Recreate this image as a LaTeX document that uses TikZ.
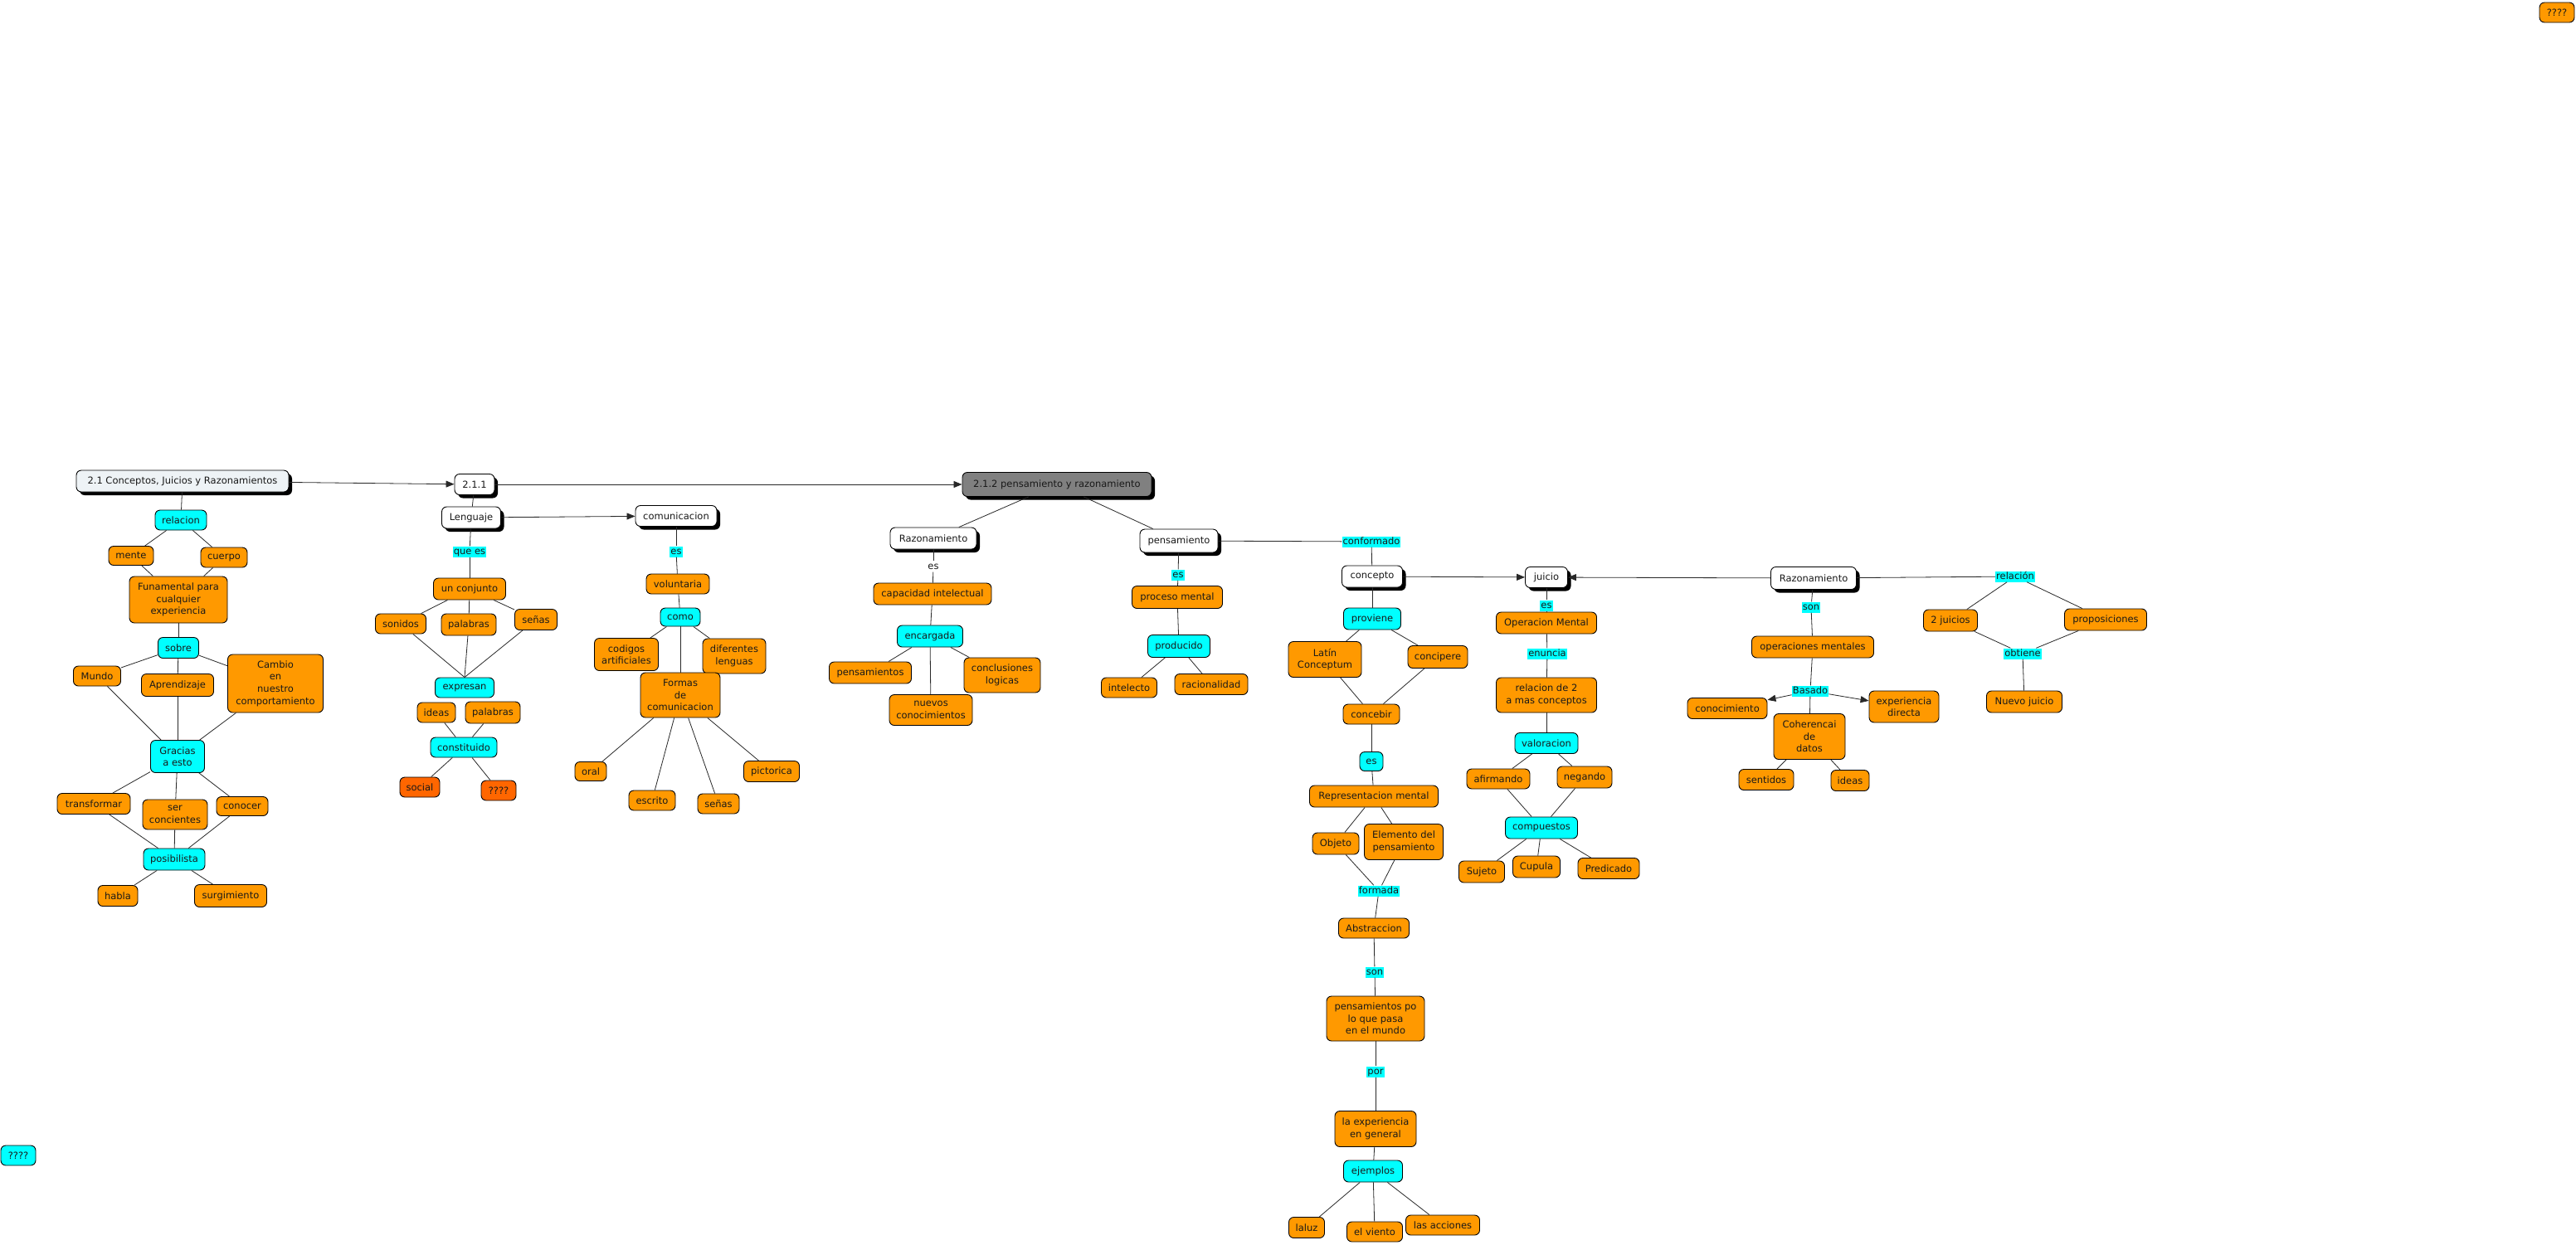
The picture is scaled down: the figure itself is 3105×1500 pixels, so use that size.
\documentclass[tikz,border=0pt]{standalone}
\usepackage{fontspec}
\setmainfont{DejaVu Sans}
\usetikzlibrary{arrows.meta,shadows}
\definecolor{corange}{RGB}{255,153,0}
\definecolor{ccyan}{RGB}{0,255,255}
\definecolor{cdark}{RGB}{255,102,0}
\definecolor{cmain}{RGB}{238,243,246}
\definecolor{cgray}{RGB}{128,128,128}
\definecolor{lnk}{RGB}{40,40,40}
\tikzset{
  base/.style={draw=black, line width=0.9pt, rounded corners=6pt, align=center, inner sep=1pt,
    font=\fontsize{11.5}{14.6}\selectfont, text=black!90},
  ob/.style={base, fill=corange},
  cb/.style={base, fill=ccyan},
  db/.style={base, fill=cdark},
  wb/.style={base, fill=white, general shadow={fill=black, shadow xshift=4pt, shadow yshift=-4pt}},
  lab/.style={fill=ccyan, inner sep=1pt, text height=8.5pt, text depth=2.5pt,
    font=\fontsize{11.5}{14.6}\selectfont, text=black!90},
  plab/.style={lab, fill=white},
  sz/.style 2 args={minimum width=#1pt, minimum height=#2pt},
  ln/.style={draw=lnk, line width=0.8pt},
  ar/.style={ln, -{Triangle[length=10pt,width=8pt]}},
}
\begin{document}
\begin{tikzpicture}[x=1pt, y=-1pt]
\useasboundingbox[fill=white] (0,0) rectangle (3105,1500);
% ---------- left section
\node[base, fill=cmain, general shadow={fill=black, shadow xshift=4pt, shadow yshift=-4pt}, sz={256}{26}] (main) at (220,580) {2.1 Conceptos, Juicios y Razonamientos};
\node[cb, sz={62}{24}] (rel) at (218,627) {relacion};
\node[ob, sz={54}{23}] (mente) at (158,670) {mente};
\node[ob, sz={56}{24}] (cuerpo) at (270,672) {cuerpo};
\node[ob, sz={118}{56}] (fun) at (215,723) {Funamental para\\cualquier\\experiencia};
\node[cb, sz={49}{25}] (sobre) at (215,781) {sobre};
\node[ob, sz={57}{24}] (mundo) at (117,815) {Mundo};
\node[ob, sz={87}{27}] (apr) at (214,826) {Aprendizaje};
\node[ob, sz={115}{70}] (cambio) at (332,824) {Cambio\\en\\nuestro\\comportamiento};
\node[cb, sz={65}{39}] (gracias) at (214,912) {Gracias\\a esto};
\node[ob, sz={88}{25}] (transf) at (113,969) {transformar};
\node[ob, sz={78}{36}] (ser) at (211,982) {ser\\concientes};
\node[ob, sz={62}{23}] (conocer) at (292,972) {conocer};
\node[cb, sz={74}{26}] (posib) at (210,1036) {posibilista};
\node[ob, sz={48}{25}] (habla) at (142,1080) {habla};
\node[ob, sz={87}{27}] (surg) at (278,1080) {surgimiento};
% ---------- lenguaje
\node[wb, sz={48}{25}] (n211) at (572,584) {2.1.1};
\node[wb, sz={71}{26}] (leng) at (568,624) {Lenguaje};
\node[lab] (quees) at (566,665) {que es};
\node[ob, sz={87}{26}] (conj) at (566,710) {un conjunto};
\node[ob, sz={61}{24}] (son1) at (483,752) {sonidos};
\node[ob, sz={66}{26}] (pal1) at (565,753) {palabras};
\node[ob, sz={51}{25}] (sen1) at (646,747) {señas};
\node[cb, sz={71}{24}] (expr) at (560,829) {expresan};
\node[ob, sz={46}{24}] (ideas1) at (526,859) {ideas};
\node[ob, sz={66}{26}] (pal2) at (594,859) {palabras};
\node[cb, sz={80}{24}] (const) at (559,901) {constituido};
\node[db, sz={48}{24}] (social) at (506,949) {social};
\node[db, sz={42}{24}] (q1) at (601,953) {????};
% ---------- comunicacion
\node[wb, sz={98}{25}] (com) at (815,622) {comunicacion};
\node[lab] (es1) at (815,665) {es};
\node[ob, sz={76}{24}] (vol) at (817,704) {voluntaria};
\node[cb, sz={48}{22}] (como) at (820,744) {como};
\node[ob, sz={77}{39}] (cod) at (755,789) {codigos\\artificiales};
\node[ob, sz={76}{42}] (dif) at (885,791) {diferentes\\lenguas};
\node[ob, sz={96}{54}] (formas) at (820,838) {Formas\\de\\comunicacion};
\node[ob, sz={38}{23}] (oral) at (712,930) {oral};
\node[ob, sz={56}{24}] (escr) at (786,965) {escrito};
\node[ob, sz={50}{24}] (sen2) at (866,969) {señas};
\node[ob, sz={67}{25}] (pict) at (930,930) {pictorica};
% ---------- 2.1.2
\node[base, fill=cgray, general shadow={fill=black, shadow xshift=4pt, shadow yshift=-4pt}, sz={228}{29}] (n212) at (1274,584) {2.1.2 pensamiento y razonamiento};
\node[wb, sz={104}{26}] (raz1) at (1125,649) {Razonamiento};
\node[plab] (es2) at (1125,683) {es};
\node[ob, sz={142}{26}] (cap) at (1124,716) {capacidad intelectual};
\node[cb, sz={79}{26}] (enc) at (1121,767) {encargada};
\node[ob, sz={99}{26}] (pens1) at (1049,811) {pensamientos};
\node[ob, sz={92}{42}] (concl) at (1208,814) {conclusiones\\logicas};
\node[ob, sz={100}{37}] (nuevos) at (1122,856) {nuevos\\conocimientos};
% ---------- pensamiento
\node[wb, sz={94}{28}] (pens) at (1421,652) {pensamiento};
\node[lab] (es3) at (1420,693) {es};
\node[ob, sz={109}{27}] (proc) at (1419,720) {proceso mental};
\node[cb, sz={75}{27}] (prod) at (1421,779) {producido};
\node[ob, sz={67}{24}] (intel) at (1361,829) {intelecto};
\node[ob, sz={88}{25}] (racio) at (1460,825) {racionalidad};
\node[lab] (conf) at (1653,653) {conformado};
% ---------- concepto
\node[wb, sz={73}{26}] (conc) at (1654,695) {concepto};
\node[cb, sz={69}{26}] (prov) at (1654,746) {proviene};
\node[ob, sz={88}{43}] (latin) at (1597,795) {Latín\\Conceptum};
\node[ob, sz={72}{27}] (concip) at (1733,792) {concipere};
\node[ob, sz={68}{24}] (concb) at (1653,861) {concebir};
\node[cb, sz={28}{23}] (es4) at (1653,918) {es};
\node[ob, sz={155}{26}] (repr) at (1656,960) {Representacion mental};
\node[ob, sz={56}{26}] (obj) at (1610,1017) {Objeto};
\node[ob, sz={95}{43}] (elem) at (1692,1015) {Elemento del\\pensamiento};
\node[lab] (form) at (1662,1074) {formada};
\node[ob, sz={85}{24}] (abst) at (1656,1119) {Abstraccion};
\node[lab] (son2) at (1657,1172) {son};
\node[ob, sz={118}{54}] (penspo) at (1658,1228) {pensamientos po\\lo que pasa\\en el mundo};
\node[lab] (por) at (1658,1292) {por};
\node[ob, sz={98}{43}] (exp) at (1658,1361) {la experiencia\\en general};
\node[cb, sz={71}{26}] (ejem) at (1655,1412) {ejemplos};
\node[ob, sz={43}{25}] (luz) at (1575,1480) {laluz};
\node[ob, sz={67}{24}] (viento) at (1657,1485) {el viento};
\node[ob, sz={89}{24}] (acc) at (1739,1477) {las acciones};
% ---------- juicio
\node[wb, sz={51}{25}] (jui) at (1864,696) {juicio};
\node[lab] (es5) at (1864,730) {es};
\node[ob, sz={121}{26}] (opm) at (1864,751) {Operacion Mental};
\node[lab] (enun) at (1865,788) {enuncia};
\node[ob, sz={121}{42}] (rel2) at (1864,838) {relacion de 2\\a mas conceptos};
\node[cb, sz={76}{25}] (val) at (1864,896) {valoracion};
\node[ob, sz={76}{24}] (afir) at (1806,939) {afirmando};
\node[ob, sz={66}{26}] (neg) at (1910,937) {negando};
\node[cb, sz={87}{26}] (comp) at (1858,998) {compuestos};
\node[ob, sz={55}{26}] (suj) at (1786,1051) {Sujeto};
\node[ob, sz={57}{26}] (cup) at (1852,1045) {Cupula};
\node[ob, sz={74}{25}] (pred) at (1939,1047) {Predicado};
% ---------- razonamiento right
\node[wb, sz={103}{27}] (raz2) at (2186,697) {Razonamiento};
\node[lab] (son3) at (2183,732) {son};
\node[ob, sz={147}{26}] (opms) at (2185,780) {operaciones mentales};
\node[lab] (bas) at (2182,833) {Basado};
\node[ob, sz={96}{25}] (conoc) at (2082,854) {conocimiento};
\node[ob, sz={84}{38}] (expd) at (2295,852) {experiencia\\directa};
\node[ob, sz={86}{55}] (coh) at (2181,888) {Coherencai\\de\\datos};
\node[ob, sz={66}{25}] (sent) at (2129,940) {sentidos};
\node[ob, sz={46}{25}] (ideas2) at (2230,941) {ideas};
\node[lab] (relc) at (2429,695) {relación};
\node[ob, sz={65}{26}] (dosj) at (2351,748) {2 juicios};
\node[ob, sz={99}{26}] (prop) at (2538,747) {proposiciones};
\node[lab] (obt) at (2438,788) {obtiene};
\node[ob, sz={91}{26}] (nuevo) at (2440,846) {Nuevo juicio};
% ---------- isolated
\node[cb, sz={42}{24}] (qc) at (22,1393) {????};
\node[ob, sz={42}{24}] (qo) at (3082,15) {????};
% ---------- connectors
\foreach \a/\b in {main/rel, rel/mente, rel/cuerpo, mente/fun, cuerpo/fun, fun/sobre,
  sobre/mundo, sobre/apr, sobre/cambio, mundo/gracias, apr/gracias, cambio/gracias,
  gracias/transf, gracias/ser, gracias/conocer, transf/posib, ser/posib, conocer/posib,
  posib/habla, posib/surg,
  n211/leng, leng/quees, quees/conj, conj/son1, conj/pal1, conj/sen1,
  ideas1/const, pal2/const, const/social, const/q1,
  com/es1, es1/vol, vol/como, como/cod, como/dif, como/formas,
  formas/oral, formas/escr, formas/sen2, formas/pict,
  n212/raz1, n212/pens, raz1/es2, es2/cap, cap/enc, enc/pens1, enc/nuevos, enc/concl,
  pens/es3, es3/proc, proc/prod, prod/intel, prod/racio, pens/conf, conf/conc,
  conc/prov, prov/latin, prov/concip, latin/concb, concip/concb, concb/es4, es4/repr,
  repr/obj, repr/elem, obj/form, elem/form, form/abst, abst/son2, son2/penspo,
  penspo/por, por/exp, exp/ejem, ejem/luz, ejem/viento, ejem/acc,
  jui/es5, es5/opm, opm/enun, enun/rel2, rel2/val, val/afir, val/neg, afir/comp, neg/comp,
  comp/suj, comp/cup, comp/pred,
  raz2/son3, son3/opms, opms/bas, bas/coh, coh/sent, coh/ideas2,
  raz2/relc, relc/dosj, relc/prop, dosj/obt, prop/obt, obt/nuevo}
  {\draw[ln] (\a) -- (\b);}
\foreach \a in {son1, pal1, sen1} {\draw[ln] (\a) -- (expr.north);}
\draw[ar] (main) -- (n211);
\draw[ar] (n211) -- (n212);
\draw[ar] (leng) -- (com);
\draw[ar] (conc) -- (jui);
\draw[ar] (raz2) -- (jui);
\draw[ar] (bas) -- (conoc);
\draw[ar] (bas) -- (expd);
\end{tikzpicture}
\end{document}
